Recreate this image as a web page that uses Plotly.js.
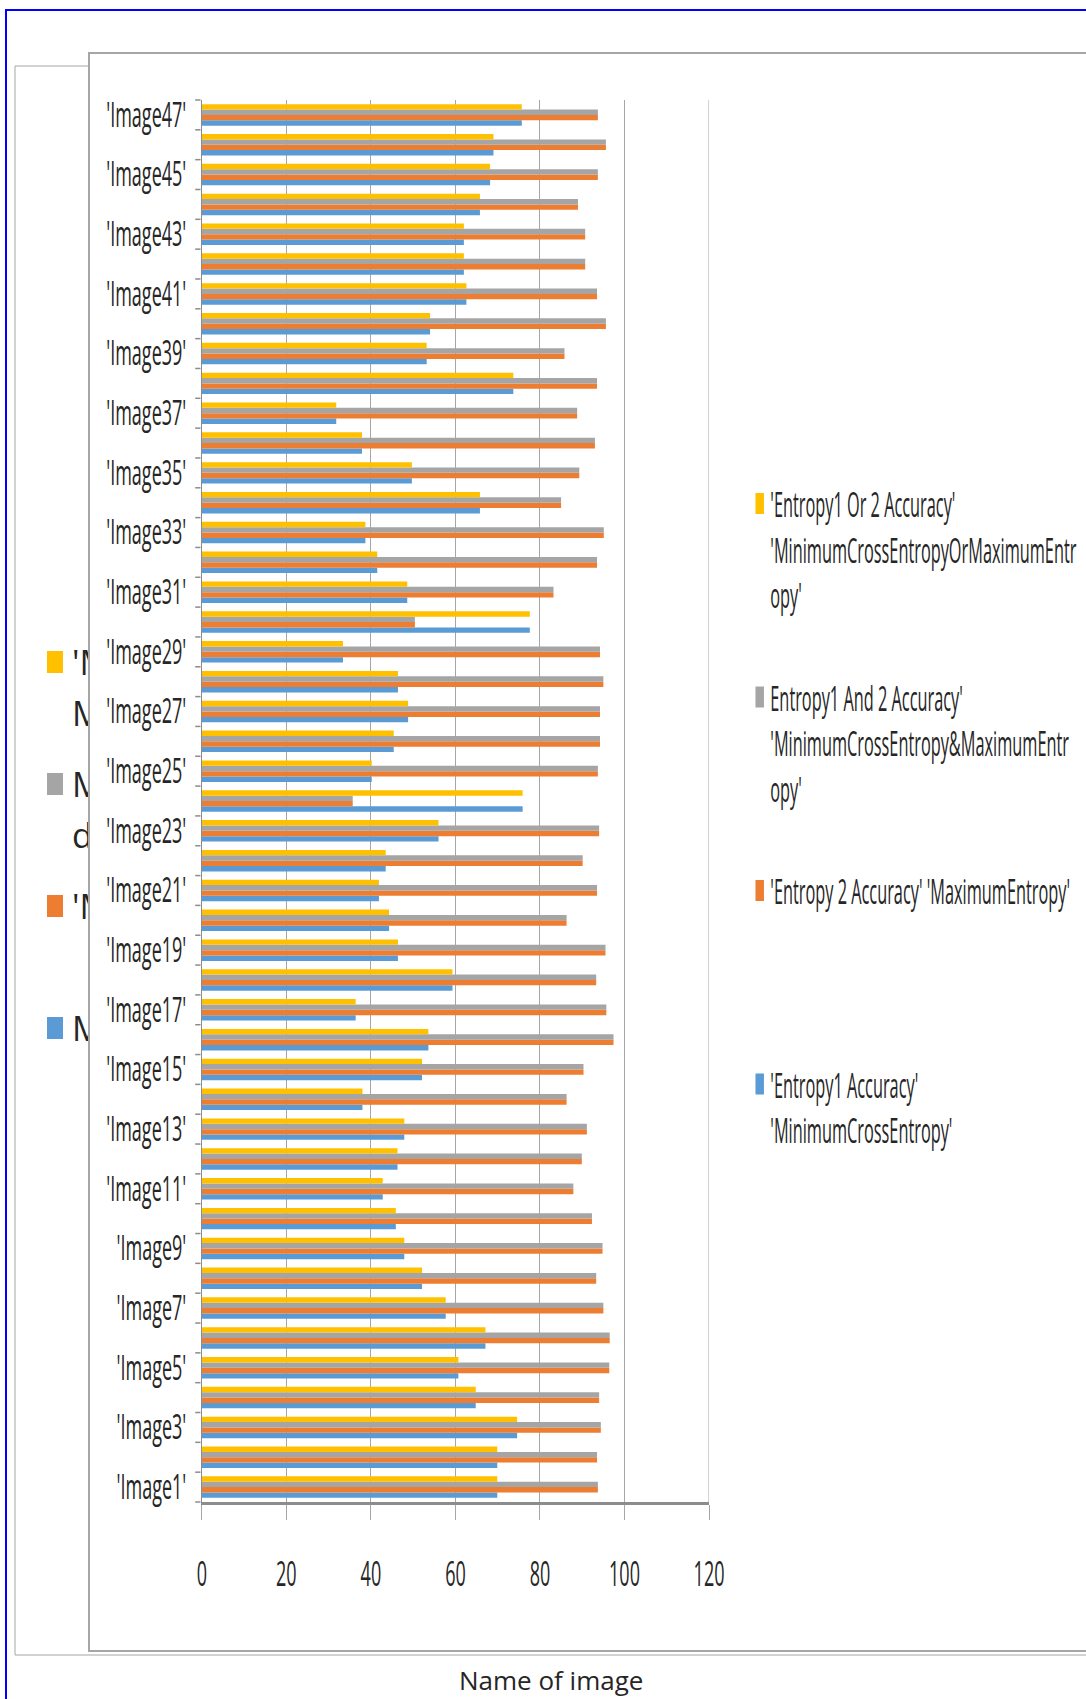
<!DOCTYPE html>
<html>
<head>
<meta charset="utf-8">
<script src="https://cdn.plot.ly/plotly-3.0.1.min.js"></script>
<style>
  html, body { margin: 0; padding: 0; background: #fff; width: 1086px; height: 1699px; overflow: hidden; }
  #back { position: absolute; left: 0; top: 0; width: 1086px; height: 1699px; }
  #frame { position: absolute; left: 88px; top: 52px; width: 1010px; height: 1600px;
           border: 2px solid #a6a6a6; border-right: none; background: #fff;
           overflow: hidden; box-sizing: border-box; }
  /* the pasted chart is squeezed horizontally */
  #front { position: absolute; left: 0; top: 0; width: 2400px; height: 1596px;
           transform: scaleX(0.53); transform-origin: 0 0; }
  #front .legendtext { transform-box: fill-box; transform-origin: 0 50%; transform: scaleX(0.88); }
</style>
</head>
<body>
<div id="back"></div>
<div id="frame"><div id="front"></div></div>
<script>
// Image names (category axis, bottom to top)
const images = [
  "'Image1'", "'Image2'", "'Image3'", "'Image4'", "'Image5'", "'Image6'", "'Image7'", "'Image8'",
  "'Image9'", "'Image10'", "'Image11'", "'Image12'", "'Image13'", "'Image14'", "'Image15'", "'Image16'",
  "'Image17'", "'Image18'", "'Image19'", "'Image20'", "'Image21'", "'Image22'", "'Image23'", "'Image24'",
  "'Image25'", "'Image26'", "'Image27'", "'Image28'", "'Image29'", "'Image30'", "'Image31'", "'Image32'",
  "'Image33'", "'Image34'", "'Image35'", "'Image36'", "'Image37'", "'Image38'", "'Image39'", "'Image40'",
  "'Image41'", "'Image42'", "'Image43'", "'Image44'", "'Image45'", "'Image46'", "'Image47'"
];

// Accuracy per image for each method
const entropy1Acc = [
  69.9, 69.9, 74.6, 64.8, 60.7, 67.1, 57.7, 52.1, 47.9, 45.9, 42.8, 46.3, 47.9, 38.0, 52.1, 53.6,
  36.4, 59.3, 46.4, 44.3, 41.9, 43.5, 56.0, 75.9, 40.2, 45.4, 48.8, 46.4, 33.4, 77.6, 48.6, 41.5,
  38.7, 65.8, 49.7, 37.9, 31.8, 73.7, 53.2, 54.0, 62.6, 62.0, 62.0, 65.8, 68.2, 69.0, 75.7
];
const entropy2Acc = [
  93.7, 93.5, 94.4, 94.0, 96.4, 96.5, 95.0, 93.3, 94.8, 92.3, 87.9, 89.9, 91.1, 86.3, 90.3, 97.4,
  95.7, 93.3, 95.5, 86.3, 93.5, 90.1, 94.0, 35.7, 93.7, 94.2, 94.2, 95.0, 94.2, 50.4, 83.2, 93.5,
  95.1, 85.0, 89.3, 93.0, 88.8, 93.5, 85.8, 95.6, 93.5, 90.7, 90.7, 89.0, 93.7, 95.6, 93.7
];
const entropyAndAcc = [
  93.7, 93.5, 94.4, 94.0, 96.4, 96.5, 95.0, 93.3, 94.8, 92.3, 87.9, 89.9, 91.1, 86.3, 90.3, 97.4,
  95.7, 93.3, 95.5, 86.3, 93.5, 90.1, 94.0, 35.7, 93.7, 94.2, 94.2, 95.0, 94.2, 50.4, 83.2, 93.5,
  95.1, 85.0, 89.3, 93.0, 88.8, 93.5, 85.8, 95.6, 93.5, 90.7, 90.7, 89.0, 93.7, 95.6, 93.7
];
const entropyOrAcc = [
  69.9, 69.9, 74.6, 64.8, 60.7, 67.1, 57.7, 52.1, 47.9, 45.9, 42.8, 46.3, 47.9, 38.0, 52.1, 53.6,
  36.4, 59.3, 46.4, 44.3, 41.9, 43.5, 56.0, 75.9, 40.2, 45.4, 48.8, 46.4, 33.4, 77.6, 48.6, 41.5,
  38.7, 65.8, 49.7, 37.9, 31.8, 73.7, 53.2, 54.0, 62.6, 62.0, 62.0, 65.8, 68.2, 69.0, 75.7
];

// Series legend names
const seriesNames = [
  "'Entropy1 Accuracy'<br>'MinimumCrossEntropy'",
  "'Entropy 2 Accuracy' 'MaximumEntropy'",
  "Entropy1 And 2 Accuracy'<br>'MinimumCrossEntropy&amp;MaximumEntr<br>opy'",
  "'Entropy1 Or 2 Accuracy'<br>'MinimumCrossEntropyOrMaximumEntr<br>opy'"
];
const seriesColors = ['#5B9BD5', '#ED7D31', '#A5A5A5', '#FFC000'];
const seriesValues = [entropy1Acc, entropy2Acc, entropyAndAcc, entropyOrAcc];
// legend lists the last series first
const legendRanks = [4, 3, 2, 1];

// x-axis ticks
const xTicks = [0, 20, 40, 60, 80, 100, 120];
// y labels: every other image is labelled
const yTickText = images.map((c, i) => (i % 2 === 0 ? c : ''));

// Back chart legend fragments and axis title
const backLegendColors = ['#FFC000', '#A5A5A5', '#ED7D31', '#5B9BD5'];
const backLegendText = [["'M", "M"], ["M", "d"], ["'M"], ["M"]];
const backAxisTitle = 'Name of image';

const FONT = 'Open Sans, Liberation Sans, sans-serif';
const TXT = '#262626';

// pad legend names to the same number of lines so entries sit in equal slots
function padLines(s, n) {
  let k = s.split('<br>').length;
  while (k < n) { s += '<br> '; k++; }
  return s;
}

const traces = seriesValues.map((vals, i) => ({
  type: 'bar',
  orientation: 'h',
  y: images,
  x: vals,
  name: padLines(seriesNames[i], 3),
  legendgroup: 'g' + i,
  legendrank: legendRanks[i],
  marker: { color: seriesColors[i], line: { width: 0 } },
  hoverinfo: 'skip'
}));

const xMax = xTicks[xTicks.length - 1];

const frontLayout = {
  width: 2400,
  height: 1596,
  margin: { l: 211, r: 1232, t: 46, b: 148, autoexpand: false },
  paper_bgcolor: '#ffffff',
  plot_bgcolor: '#ffffff',
  barmode: 'group',
  bargap: 0.28,
  bargroupgap: 0,
  font: { family: FONT, color: TXT },
  xaxis: {
    range: [0, xMax],
    tickmode: 'array',
    tickvals: xTicks,
    ticktext: xTicks.map(String),
    showgrid: true,
    gridcolor: '#a6a6a6',
    gridwidth: 2,
    zeroline: false,
    showline: true,
    linecolor: '#8c8c8c',
    linewidth: 3,
    ticks: 'outside',
    ticklen: 15,
    tickwidth: 2,
    tickcolor: '#a6a6a6',
    ticklabelstandoff: 25,
    tickfont: { family: FONT, size: 34, color: TXT },
    fixedrange: true
  },
  yaxis: {
    type: 'category',
    categoryorder: 'array',
    categoryarray: images,
    tickmode: 'array',
    tickvals: images,
    ticktext: yTickText,
    tickson: 'boundaries',
    ticks: 'outside',
    ticklen: 10,
    tickwidth: 1.5,
    tickcolor: '#8c8c8c',
    showline: true,
    linecolor: '#8c8c8c',
    linewidth: 2.5,
    showgrid: false,
    zeroline: false,
    ticklabelstandoff: 20,
    tickfont: { family: FONT, size: 34, color: TXT },
    fixedrange: true
  },
  // gridline along the right edge of the value axis
  shapes: [
    { type: 'line', xref: 'x', yref: 'paper', x0: xMax, x1: xMax, y0: 0, y1: 1,
      line: { color: '#a6a6a6', width: 2 }, layer: 'below' }
  ],
  showlegend: true,
  legend: {
    x: 1.079,
    xanchor: 'left',
    y: 0.733,
    yanchor: 'top',
    valign: 'top',
    traceorder: 'grouped',
    tracegroupgap: 54,
    bgcolor: 'rgba(0,0,0,0)',
    font: { family: FONT, size: 35, color: TXT }
  }
};

// Background chart: outer frame, partly hidden legend, axis title
const W = 1086, H = 1699;
const px = x => x / W;
const py = y => 1 - y / H;

const backShapes = [
  { type: 'rect', xref: 'paper', yref: 'paper', x0: px(6), x1: px(1120), y0: py(10), y1: py(1740),
    line: { color: '#0000ff', width: 2 }, fillcolor: 'rgba(0,0,0,0)' },
  { type: 'rect', xref: 'paper', yref: 'paper', x0: px(15), x1: px(1120), y0: py(66), y1: py(1655),
    line: { color: '#a6a6a6', width: 1 }, fillcolor: 'rgba(0,0,0,0)' }
];
const backLegendY = [662, 784, 906, 1028];
const backAnn = [];
backLegendColors.forEach((c, i) => {
  const cy = backLegendY[i];
  backShapes.push({ type: 'rect', xref: 'paper', yref: 'paper',
    x0: px(47), x1: px(63), y0: py(cy - 11), y1: py(cy + 11),
    line: { width: 0 }, fillcolor: c });
  backLegendText[i].forEach((t, j) => {
    backAnn.push({ xref: 'paper', yref: 'paper', x: px(70), y: py(cy + j * 51),
      xanchor: 'left', yanchor: 'middle', showarrow: false, text: t,
      font: { family: FONT, size: 34, color: TXT } });
  });
});
backAnn.push({ xref: 'paper', yref: 'paper', x: px(551), y: py(1680),
  xanchor: 'center', yanchor: 'middle', showarrow: false, text: backAxisTitle,
  font: { family: FONT, size: 26, color: TXT } });

const backLayout = {
  width: W, height: H,
  margin: { l: 0, r: 0, t: 0, b: 0, autoexpand: false },
  paper_bgcolor: '#ffffff', plot_bgcolor: '#ffffff',
  xaxis: { visible: false, range: [0, 1], fixedrange: true },
  yaxis: { visible: false, range: [0, 1], fixedrange: true },
  showlegend: false,
  shapes: backShapes,
  annotations: backAnn
};

// taller legend swatches, as in the squeezed original
function enlargeLegendSwatches() {
  document.querySelectorAll('#front .legendpoints path').forEach(p => {
    p.setAttribute('d', 'M8,10.5H-8V-10.5H8Z');
  });
}

Plotly.newPlot('back', [], backLayout, { staticPlot: true, displayModeBar: false });
Plotly.newPlot('front', traces, frontLayout, { staticPlot: true, displayModeBar: false })
  .then(enlargeLegendSwatches);
</script>
</body>
</html>
